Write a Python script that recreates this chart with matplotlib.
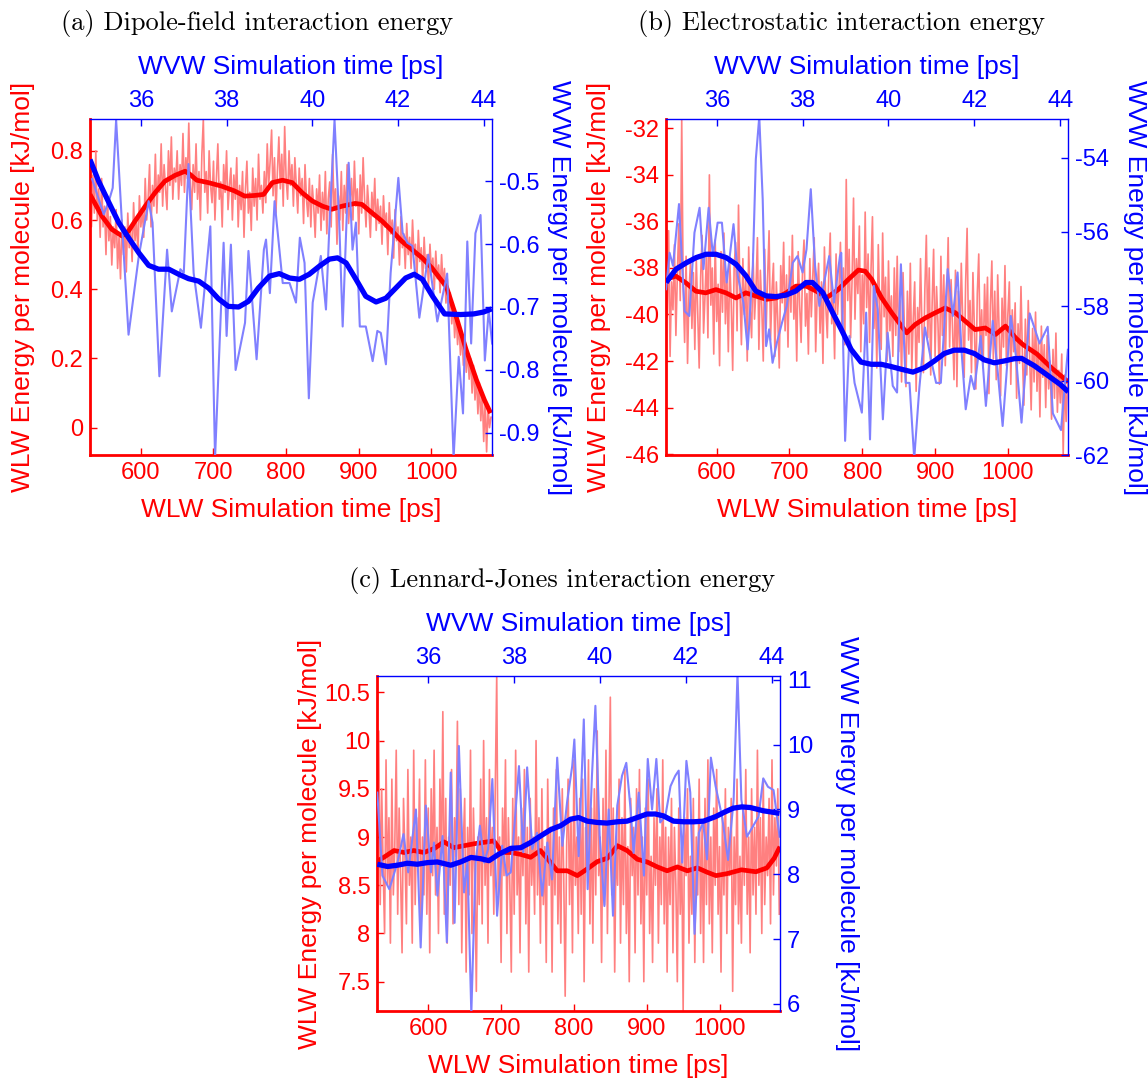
import numpy as np
import matplotlib
matplotlib.use('Agg')
import matplotlib.pyplot as plt
from matplotlib.ticker import FormatStrFormatter

plt.rcParams['font.family'] = 'Liberation Sans'
plt.rcParams['axes.unicode_minus'] = False

W, H = 1148, 1080
RED, BLUE = '#ff0000', '#0000ff'
LIGHT_RED, LIGHT_BLUE = '#ff8080', '#8080ff'

# WLW runs span 530-1083 ps (sampled every 2 ps), WVW runs 34.81-44.19 ps
WLW_RANGE = (530, 1083)
WVW_RANGE = (34.81, 44.19)

# ---------------- (a) dipole-field energy ----------------
dip_wlw = [0.66, 0.58, 0.73, 0.62, 0.80, 0.60, 0.69, 0.55, 0.72, 0.58, 0.64, 0.50, 0.67, 0.54, 0.61, 0.47, 0.58, 0.52, 0.63, 0.46,
           0.55, 0.43, 0.60, 0.50, 0.58, 0.45, 0.62, 0.52, 0.57, 0.48, 0.65, 0.54, 0.60, 0.50, 0.67, 0.58, 0.63, 0.55, 0.72, 0.60,
           0.66, 0.76, 0.58, 0.70, 0.64, 0.79, 0.62, 0.73, 0.68, 0.82, 0.64, 0.76, 0.69, 0.63, 0.80, 0.70, 0.84, 0.66, 0.75, 0.71,
           0.80, 0.66, 0.76, 0.70, 0.85, 0.68, 0.78, 0.72, 0.88, 0.70, 0.63, 0.76, 0.68, 0.82, 0.66, 0.74, 0.60, 0.79, 0.89, 0.68,
           0.74, 0.62, 0.80, 0.70, 0.65, 0.77, 0.60, 0.72, 0.82, 0.66, 0.71, 0.58, 0.76, 0.68, 0.80, 0.63, 0.70, 0.75, 0.60, 0.73,
           0.66, 0.78, 0.58, 0.70, 0.63, 0.74, 0.55, 0.69, 0.77, 0.62, 0.68, 0.57, 0.75, 0.64, 0.72, 0.60, 0.79, 0.66, 0.70, 0.62,
           0.74, 0.65, 0.82, 0.70, 0.77, 0.86, 0.67, 0.78, 0.62, 0.74, 0.84, 0.69, 0.79, 0.64, 0.87, 0.72, 0.66, 0.80, 0.70, 0.76,
           0.64, 0.78, 0.70, 0.62, 0.75, 0.67, 0.72, 0.59, 0.76, 0.66, 0.61, 0.72, 0.58, 0.70, 0.64, 0.55, 0.69, 0.62, 0.73, 0.57,
           0.68, 0.60, 0.74, 0.56, 0.66, 0.71, 0.58, 0.79, 0.63, 0.69, 0.53, 0.67, 0.60, 0.74, 0.57, 0.70, 0.62, 0.76, 0.59, 0.66,
           0.72, 0.60, 0.77, 0.64, 0.69, 0.56, 0.73, 0.62, 0.78, 0.66, 0.58, 0.70, 0.63, 0.55, 0.68, 0.61, 0.72, 0.57, 0.66, 0.59,
           0.64, 0.53, 0.67, 0.58, 0.62, 0.50, 0.65, 0.56, 0.60, 0.49, 0.63, 0.54, 0.58, 0.47, 0.61, 0.52, 0.56, 0.46, 0.59, 0.50,
           0.55, 0.46, 0.60, 0.50, 0.53, 0.43, 0.57, 0.48, 0.52, 0.42, 0.55, 0.46, 0.50, 0.41, 0.53, 0.45, 0.49, 0.40, 0.51, 0.43,
           0.47, 0.39, 0.50, 0.41, 0.46, 0.36, 0.43, 0.33, 0.39, 0.30, 0.36, 0.26, 0.33, 0.24, 0.30, 0.21, 0.27, 0.18, 0.25, 0.16,
           0.22, 0.14, 0.20, 0.10, 0.18, 0.08, 0.15, 0.04, 0.13, 0.02, 0.10, -0.04, 0.08, -0.07, 0.06, 0.00, 0.03]
dip_wlw_avg_t = [530, 546.5, 560, 574, 583, 592, 606, 619.6, 633, 647,
                 661, 667.6, 677, 693, 711, 729, 743, 757, 769, 781,
                 795, 808.5, 822, 836, 850, 863, 877, 895, 904.5, 918,
                 932, 946, 959, 973, 987, 1000.5, 1020.7, 1034, 1048, 1062,
                 1073, 1081.5]
dip_wlw_avg = [0.674, 0.611, 0.573, 0.554, 0.568, 0.597, 0.640, 0.679, 0.712, 0.729,
               0.741, 0.732, 0.715, 0.708, 0.698, 0.684, 0.669, 0.671, 0.674, 0.708,
               0.715, 0.708, 0.679, 0.655, 0.640, 0.631, 0.640, 0.648, 0.645, 0.621,
               0.597, 0.568, 0.539, 0.515, 0.491, 0.462, 0.407, 0.321, 0.224, 0.138,
               0.080, 0.042]
dip_wvw_t = [34.86, 35.13, 35.25, 35.34, 35.42, 35.56, 35.71, 35.95, 36.18, 36.27,
             36.43, 36.61, 36.72, 36.92, 37.00, 37.11, 37.23, 37.40, 37.62, 37.73,
             37.93, 38.00, 38.10, 38.21, 38.43, 38.51, 38.70, 38.87, 38.92, 39.01,
             39.12, 39.31, 39.47, 39.62, 39.71, 39.82, 39.92, 40.01, 40.20, 40.32,
             40.40, 40.52, 40.63, 40.71, 40.85, 40.94, 41.02, 41.11, 41.25, 41.41,
             41.52, 41.60, 41.72, 41.83, 42.01, 42.11, 42.22, 42.34, 42.50, 42.71,
             42.92, 43.15, 43.30, 43.42, 43.52, 43.62, 43.71, 43.81, 43.93, 44.03,
             44.12, 44.20]
dip_wvw = [-0.497, -0.553, -0.532, -0.511, -0.403, -0.572, -0.744, -0.619, -0.532, -0.566,
           -0.810, -0.609, -0.707, -0.640, -0.646, -0.473, -0.646, -0.733, -0.572, -0.940,
           -0.598, -0.746, -0.601, -0.800, -0.725, -0.611, -0.783, -0.609, -0.593, -0.678,
           -0.532, -0.662, -0.662, -0.693, -0.590, -0.630, -0.845, -0.693, -0.619, -0.704,
           -0.572, -0.403, -0.566, -0.731, -0.471, -0.609, -0.566, -0.731, -0.731, -0.786,
           -0.738, -0.741, -0.791, -0.646, -0.495, -0.582, -0.598, -0.603, -0.717, -0.617,
           -0.723, -0.647, -0.940, -0.779, -0.869, -0.596, -0.758, -0.583, -0.554, -0.785,
           -0.705, -0.758]
dip_wvw_avg_t = [34.81, 35.01, 35.25, 35.48, 35.71, 35.95, 36.18, 36.41, 36.65, 36.88,
                 37.11, 37.35, 37.58, 37.81, 38.04, 38.28, 38.51, 38.74, 39.00, 39.23,
                 39.47, 39.70, 39.93, 40.17, 40.40, 40.59, 40.79, 41.02, 41.25, 41.49,
                 41.72, 41.95, 42.18, 42.38, 42.57, 42.81, 43.09, 43.46, 43.77, 44.00,
                 44.19]
dip_wvw_avg = [-0.466, -0.500, -0.534, -0.566, -0.590, -0.614, -0.634, -0.640, -0.640, -0.648,
               -0.655, -0.659, -0.670, -0.687, -0.699, -0.700, -0.691, -0.670, -0.651, -0.647,
               -0.654, -0.656, -0.648, -0.635, -0.624, -0.622, -0.630, -0.656, -0.683, -0.692,
               -0.686, -0.670, -0.654, -0.648, -0.656, -0.683, -0.711, -0.712, -0.711, -0.708,
               -0.703]

# ---------------- (b) electrostatic energy ----------------
elec_wlw = [-37.2, -40.1, -36.4, -41.8, -38.6, -39.8, -37.0, -40.9, -38.3, -36.1, -39.4, -31.6, -38.8, -41.2, -37.5, -42.1, -39.0, -37.8, -40.6, -38.2,
            -41.5, -37.6, -40.0, -42.3, -38.4, -36.6, -40.8, -39.2, -37.4, -41.0, -34.0, -39.6, -38.0, -41.7, -36.8, -40.3, -38.7, -42.2, -37.3, -39.9,
            -36.5, -40.4, -38.2, -41.6, -37.7, -39.5, -42.4, -38.0, -36.9, -40.7, -35.3, -39.1, -41.3, -37.6, -40.0, -38.5, -42.0, -37.1, -39.8, -41.0,
            -37.4, -40.2, -38.9, -36.7, -41.5, -38.1, -39.7, -42.0, -37.2, -40.6, -38.4, -36.4, -41.1, -39.0, -37.8, -41.8, -38.6, -40.3, -42.3, -37.9,
            -39.5, -36.9, -40.7, -38.3, -41.4, -37.5, -39.9, -36.6, -40.2, -38.8, -42.0, -37.3, -39.6, -41.2, -38.0, -36.8, -40.5, -39.1, -41.7, -37.6,
            -40.1, -38.4, -36.7, -41.6, -39.2, -37.8, -40.8, -38.6, -42.1, -37.1, -39.7, -41.0, -38.2, -36.5, -40.4, -39.3, -41.9, -37.4, -40.0, -38.9,
            -36.9, -40.6, -38.0, -41.3, -34.2, -39.4, -37.2, -41.0, -38.5, -35.0, -40.2, -37.6, -39.1, -36.2, -41.6, -38.3, -40.4, -35.6, -39.7, -37.4,
            -41.2, -38.1, -35.8, -40.6, -38.9, -42.3, -37.0, -39.8, -41.5, -36.5, -40.1, -38.4, -42.0, -37.7, -40.7, -39.2, -41.8, -38.0, -40.9, -37.5,
            -41.6, -39.4, -42.9, -38.2, -40.8, -43.1, -39.0, -41.7, -37.8, -42.4, -40.2, -38.6, -43.3, -39.7, -41.2, -37.6, -40.6, -42.5, -38.9, -36.6,
            -41.0, -38.0, -42.6, -39.5, -37.2, -41.8, -38.8, -40.4, -43.0, -37.5, -40.9, -38.3, -42.2, -39.6, -36.7, -41.4, -38.5, -40.7, -42.8, -38.1,
            -43.1, -39.0, -41.5, -37.8, -40.3, -42.7, -38.6, -36.3, -41.1, -39.4, -42.5, -38.2, -40.6, -43.2, -39.1, -37.4, -41.7, -39.8, -42.3, -38.7,
            -40.9, -38.4, -43.4, -39.6, -37.7, -41.9, -39.0, -42.8, -38.3, -40.7, -43.5, -39.3, -41.4, -37.9, -42.2, -40.0, -38.6, -43.0, -39.8, -41.6,
            -39.5, -43.6, -40.4, -42.1, -38.8, -41.8, -43.9, -40.2, -42.6, -39.4, -41.9, -44.1, -40.6, -42.9, -39.9, -43.3, -41.1, -44.4, -40.5, -42.7,
            -41.3, -44.0, -40.9, -43.2, -42.0, -44.5, -41.5, -43.6, -40.8, -44.2, -42.4, -43.8, -41.7, -46.0, -42.6, -44.6, -42.9]
elec_wlw_avg_t = [530, 544, 557.7, 571.5, 585, 599, 612.8, 626.6, 640, 654,
                  668, 682, 695.5, 709, 723, 737, 750.6, 767, 781, 794.6,
                  804, 813, 826.7, 840.5, 854, 861, 872.7, 886.5, 900, 914,
                  928, 941.6, 955, 969, 983, 996.7, 1010.5, 1020.5, 1040, 1060,
                  1083]
elec_wlw_avg = [-38.49, -38.35, -38.64, -39.00, -39.07, -38.93, -39.07, -39.29, -39.07, -39.21,
                -39.35, -39.29, -39.07, -38.78, -38.78, -39.00, -39.29, -38.93, -38.49, -38.09,
                -38.14, -38.49, -39.29, -39.93, -40.50, -40.79, -40.43, -40.15, -39.93, -39.72,
                -39.93, -40.29, -40.65, -40.58, -40.86, -40.50, -41.00, -41.29, -41.70, -42.30,
                -42.90]
elec_wvw_t = [34.82, 34.90, 34.98, 35.12, 35.25, 35.36, 35.48, 35.60, 35.69, 35.81,
              35.91, 36.02, 36.12, 36.23, 36.39, 36.49, 36.62, 36.72, 36.84, 36.91,
              36.99, 37.07, 37.15, 37.22, 37.30, 37.40, 37.52, 37.63, 37.77, 37.88,
              38.00, 38.09, 38.19, 38.29, 38.39, 38.50, 38.62, 38.73, 38.87, 38.90,
              38.99, 39.09, 39.21, 39.38, 39.48, 39.57, 39.66, 39.75, 39.87, 39.98,
              40.10, 40.20, 40.29, 40.40, 40.49, 40.60, 40.72, 40.85, 40.99, 41.11,
              41.22, 41.38, 41.50, 41.61, 41.70, 41.80, 41.92, 42.00, 42.15, 42.27,
              42.43, 42.54, 42.66, 42.85, 42.97, 43.10, 43.29, 43.52, 43.71, 43.83,
              44.02, 44.18]
elec_wvw = [-57.54, -56.56, -56.91, -55.25, -58.13, -58.26, -56.02, -55.35, -57.00, -55.35,
            -56.65, -55.75, -55.75, -57.36, -55.79, -57.18, -57.90, -59.16, -56.91, -54.04,
            -52.90, -55.12, -59.07, -58.62, -59.52, -58.98, -58.44, -57.99, -56.83, -56.65,
            -57.09, -56.47, -54.85, -56.91, -57.99, -57.36, -56.65, -57.90, -56.65, -56.56,
            -61.62, -58.80, -60.06, -60.86, -58.17, -61.58, -57.45, -58.08, -61.04, -58.71,
            -60.14, -60.32, -56.87, -60.06, -60.06, -62.10, -60.19, -58.57, -59.43, -60.06,
            -60.06, -57.00, -58.26, -57.09, -59.16, -60.77, -59.87, -60.23, -58.80, -60.68,
            -58.39, -59.69, -61.22, -58.26, -59.34, -61.13, -58.19, -59.00, -58.55, -60.88,
            -61.33, -59.17]
elec_wvw_avg_t = [34.82, 35.05, 35.29, 35.52, 35.75, 35.98, 36.22, 36.45, 36.68, 36.91,
                  37.15, 37.38, 37.61, 37.84, 38.08, 38.23, 38.47, 38.70, 38.90, 39.13,
                  39.36, 39.60, 39.83, 40.06, 40.29, 40.57, 40.84, 41.07, 41.30, 41.53,
                  41.77, 42.00, 42.23, 42.47, 42.70, 42.93, 43.10, 43.40, 43.70, 44.00,
                  44.19]
elec_wvw_avg = [-57.36, -57.00, -56.83, -56.69, -56.60, -56.60, -56.69, -56.87, -57.18, -57.59,
                -57.72, -57.74, -57.70, -57.59, -57.36, -57.36, -57.63, -58.17, -58.62, -59.16,
                -59.50, -59.56, -59.56, -59.62, -59.69, -59.77, -59.65, -59.47, -59.27, -59.18,
                -59.18, -59.27, -59.44, -59.52, -59.47, -59.41, -59.40, -59.60, -59.85, -60.10,
                -60.30]

# ---------------- (c) Lennard-Jones energy ----------------
lj_wlw = [9.1, 10.1, 8.3, 9.5, 8.7, 8.0, 9.8, 8.5, 9.2, 7.9, 9.6, 8.4, 8.9, 9.9, 8.2, 9.3, 8.6, 7.8, 9.4, 8.8,
          8.1, 9.7, 8.5, 9.0, 7.9, 9.9, 8.3, 9.2, 8.7, 9.6, 8.0, 9.0, 8.4, 9.8, 8.2, 9.3, 7.8, 9.5, 8.6, 9.9,
          8.4, 9.1, 8.0, 9.6, 8.7, 10.3, 8.2, 9.4, 7.9, 9.0, 8.5, 9.7, 8.1, 9.2, 8.8, 10.2, 8.3, 9.5, 7.8, 8.9,
          9.4, 7.6, 9.1, 8.4, 9.9, 8.0, 9.3, 8.6, 7.4, 9.0, 8.3, 9.6, 8.1, 10.0, 8.5, 9.2, 7.9, 9.7, 8.6, 9.1,
          8.2, 9.5, 10.68, 8.4, 9.0, 7.7, 9.3, 8.6, 9.8, 8.0, 9.2, 8.5, 7.6, 9.4, 8.2, 9.9, 8.4, 9.0, 7.8, 9.3,
          8.6, 9.7, 8.1, 9.1, 7.6, 9.4, 8.5, 9.0, 8.2, 10.0, 8.4, 9.2, 7.9, 9.5, 8.3, 8.9, 7.7, 9.6, 8.5, 9.1,
          7.6, 9.3, 8.4, 9.7, 8.1, 9.0, 7.9, 9.5, 8.6, 7.35, 8.9, 9.6, 8.3, 9.2, 7.8, 9.8, 8.5, 9.0, 8.0, 9.4,
          8.2, 9.6, 7.5, 9.1, 8.7, 9.8, 8.1, 9.3, 7.9, 9.5, 8.4, 10.1, 8.6, 9.0, 7.7, 9.4, 8.3, 9.9, 8.0, 9.2,
          10.45, 8.4, 9.3, 7.6, 9.0, 8.5, 9.6, 7.9, 9.2, 8.3, 9.7, 8.0, 8.9, 7.5, 9.4, 8.6, 9.1, 7.8, 9.5, 8.4,
          9.7, 8.1, 9.0, 7.5, 9.3, 8.4, 9.6, 8.0, 8.8, 7.7, 9.2, 8.5, 9.5, 7.9, 9.0, 8.3, 9.8, 8.1, 9.1, 7.6,
          9.0, 8.3, 9.4, 7.8, 9.1, 8.5, 7.5, 9.3, 8.2, 8.9, 7.2, 9.2, 8.6, 9.5, 7.9, 8.8, 8.2, 9.4, 7.7, 9.0,
          8.4, 9.6, 8.0, 9.1, 7.7, 9.4, 8.3, 9.8, 8.1, 9.0, 7.8, 9.3, 8.5, 9.7, 8.2, 8.9, 7.6, 9.2, 8.4, 9.5,
          8.0, 9.1, 8.6, 9.4, 7.4, 9.0, 8.3, 9.6, 8.1, 8.8, 7.9, 9.3, 8.5, 9.7, 8.2, 9.0, 7.8, 9.5, 8.4, 9.1,
          8.2, 9.9, 8.5, 9.2, 8.0, 9.6, 8.3, 9.0, 8.6, 9.4, 8.1, 9.8, 8.4, 9.2, 8.7, 9.5, 8.2]
lj_wlw_avg_t = [530, 539, 553, 566.6, 580, 594, 608, 621.6, 635, 649,
                662.8, 676.5, 690, 701.6, 713, 727, 740.6, 754, 765.8, 777,
                791, 804.7, 818.4, 832, 846, 859.6, 873, 887, 901, 914.6,
                928, 942, 955.8, 969.5, 983, 995, 1010, 1030, 1050, 1065,
                1075, 1083]
lj_wlw_avg = [8.75, 8.79, 8.86, 8.84, 8.86, 8.84, 8.88, 8.95, 8.89, 8.91,
              8.93, 8.945, 8.96, 8.84, 8.84, 8.82, 8.79, 8.86, 8.756, 8.65,
              8.65, 8.60, 8.67, 8.745, 8.78, 8.91, 8.86, 8.77, 8.74, 8.69,
              8.65, 8.69, 8.65, 8.68, 8.635, 8.60, 8.62, 8.66, 8.64, 8.68,
              8.78, 8.90]
lj_wvw_t = [34.81, 34.93, 35.09, 35.28, 35.42, 35.53, 35.71, 35.82, 35.94, 36.06,
            36.13, 36.21, 36.33, 36.43, 36.52, 36.61, 36.71, 36.83, 36.91, 37.00,
            37.10, 37.20, 37.30, 37.39, 37.49, 37.60, 37.72, 37.82, 37.92, 38.01,
            38.11, 38.21, 38.30, 38.42, 38.53, 38.65, 38.77, 38.88, 39.00, 39.12,
            39.23, 39.35, 39.40, 39.50, 39.62, 39.71, 39.81, 39.89, 39.99, 40.10,
            40.20, 40.30, 40.40, 40.51, 40.61, 40.71, 40.78, 40.90, 41.02, 41.11,
            41.21, 41.31, 41.40, 41.52, 41.64, 41.75, 41.83, 41.91, 42.01, 42.10,
            42.20, 42.30, 42.40, 42.49, 42.58, 42.69, 42.84, 42.98, 43.11, 43.20,
            43.29, 43.42, 43.56, 43.69, 43.80, 43.91, 44.04, 44.18]
lj_wvw = [9.26, 7.98, 7.77, 8.18, 8.62, 8.03, 9.00, 6.87, 9.06, 8.03,
          8.49, 7.67, 8.59, 6.95, 9.57, 7.25, 9.98, 7.72, 8.18, 5.85,
          8.18, 8.75, 8.18, 8.39, 9.47, 7.36, 8.44, 7.98, 8.03, 8.80,
          9.67, 8.34, 9.65, 8.39, 8.64, 7.67, 8.49, 7.92, 9.80, 8.44,
          9.11, 9.67, 10.08, 8.28, 10.39, 7.77, 9.52, 10.60, 8.59, 7.51,
          9.00, 7.36, 9.06, 9.52, 9.72, 9.00, 8.33, 9.26, 7.98, 9.78,
          9.00, 9.78, 8.80, 8.90, 9.36, 9.52, 9.60, 8.18, 9.75, 9.26,
          7.08, 8.64, 8.80, 8.23, 9.80, 9.36, 8.89, 8.22, 9.15, 11.10,
          9.15, 8.58, 8.74, 8.89, 9.48, 9.35, 9.30, 8.58]
lj_wvw_avg_t = [34.81, 35.05, 35.28, 35.51, 35.74, 35.98, 36.21, 36.52, 36.75, 36.99,
                37.22, 37.41, 37.64, 37.92, 38.15, 38.38, 38.61, 38.85, 39.08, 39.31,
                39.50, 39.70, 39.93, 40.16, 40.40, 40.63, 40.86, 41.09, 41.29, 41.48,
                41.71, 41.95, 42.18, 42.41, 42.69, 42.90, 43.10, 43.30, 43.50, 43.80,
                44.00, 44.18]
lj_wvw_avg = [8.155, 8.12, 8.14, 8.17, 8.155, 8.18, 8.19, 8.14, 8.19, 8.26,
              8.24, 8.21, 8.31, 8.40, 8.41, 8.49, 8.59, 8.69, 8.75, 8.85,
              8.875, 8.82, 8.80, 8.79, 8.81, 8.82, 8.875, 8.93, 8.93, 8.90,
              8.82, 8.81, 8.81, 8.82, 8.89, 8.96, 9.02, 9.04, 9.03, 8.98,
              8.96, 8.94]

fig = plt.figure(figsize=(W / 100, H / 100), dpi=100)


def energy_panel(box, title, title_x, wlw, wlw_avg_t, wlw_avg, wvw_t, wvw,
                 wvw_avg_t, wvw_avg, ylim_l, yticks_l, ylim_r, yticks_r):
    left, top, right, bottom = box
    rect = [left / W, 1 - bottom / H, (right - left) / W, (bottom - top) / H]
    w_px, h_px = right - left, bottom - top

    ax = fig.add_axes(rect)
    ax2 = fig.add_axes(rect)
    ax2.patch.set_visible(False)

    t_wlw = np.linspace(WLW_RANGE[0], 1082, len(wlw))
    ax.plot(t_wlw, wlw, color=LIGHT_RED, lw=1.2)
    ax.plot(wlw_avg_t, wlw_avg, color=RED, lw=3.4, solid_capstyle='butt')
    ax2.plot(wvw_t, wvw, color=LIGHT_BLUE, lw=1.5)
    ax2.plot(wvw_avg_t, wvw_avg, color=BLUE, lw=3.8, solid_capstyle='butt')

    ax.set_xlim(*WLW_RANGE)
    ax.set_ylim(*ylim_l)
    ax.set_xticks([600, 700, 800, 900, 1000])
    ax.set_yticks(yticks_l)
    ax2.set_xlim(*WVW_RANGE)
    ax2.set_ylim(*ylim_r)
    ax2.set_xticks([36, 38, 40, 42, 44])
    ax2.set_yticks(yticks_r)
    for a in (ax, ax2):
        a.yaxis.set_major_formatter(FormatStrFormatter('%g'))

    ax.tick_params(direction='in', length=5, width=1, color=RED, labelcolor=RED,
                   labelsize=17, pad=5, top=False, right=False)
    ax2.tick_params(direction='in', length=5, width=1, color=BLUE, labelcolor=BLUE,
                    labelsize=17, pad=5, top=True, right=True, bottom=False, left=False,
                    labeltop=True, labelright=True, labelbottom=False, labelleft=False)

    for side in ('top', 'right'):
        ax.spines[side].set_visible(False)
    for side in ('left', 'bottom'):
        ax.spines[side].set_color(RED)
        ax.spines[side].set_linewidth(2)
        ax2.spines[side].set_visible(False)
    for side in ('top', 'right'):
        ax2.spines[side].set_color(BLUE)
        ax2.spines[side].set_linewidth(1)

    ax.set_xlabel('WLW Simulation time [ps]', color=RED, fontsize=19, va='center')
    ax.xaxis.set_label_coords(0.5, -55 / h_px)
    ax.set_ylabel('WLW Energy per molecule [kJ/mol]', color=RED, fontsize=19, va='center')
    ax.yaxis.set_label_coords(-67 / w_px, 0.5)
    ax2.xaxis.set_label_position('top')
    ax2.set_xlabel('WVW Simulation time [ps]', color=BLUE, fontsize=19, va='center')
    ax2.xaxis.set_label_coords(0.5, 1 + 52.5 / h_px)
    ax2.yaxis.set_label_position('right')
    ax2.set_ylabel('WVW Energy per molecule [kJ/mol]', color=BLUE, fontsize=19,
                   rotation=270, va='center')
    ax2.yaxis.set_label_coords(1 + 67 / w_px, 0.5)

    fig.text(title_x / W, 1 - (top - 96) / H, title, family='cmr10', fontsize=19,
             ha='center', va='center')


energy_panel((90, 119.3, 491.7, 455), '(a) Dipole-field interaction energy', 257,
             dip_wlw, dip_wlw_avg_t, dip_wlw_avg, dip_wvw_t, dip_wvw,
             dip_wvw_avg_t, dip_wvw_avg,
             (-0.079, 0.891), [0, 0.2, 0.4, 0.6, 0.8],
             (-0.935, -0.402), [-0.9, -0.8, -0.7, -0.6, -0.5])
energy_panel((665.7, 119.3, 1068.3, 455), '(b) Electrostatic interaction energy', 841,
             elec_wlw, elec_wlw_avg_t, elec_wlw_avg, elec_wvw_t, elec_wvw,
             elec_wvw_avg_t, elec_wvw_avg,
             (-46.04, -31.61), [-46, -44, -42, -40, -38, -36, -34, -32],
             (-62.0, -52.97), [-62, -60, -58, -56, -54])
energy_panel((377.3, 676, 780, 1011), '(c) Lennard-Jones interaction energy', 562,
             lj_wlw, lj_wlw_avg_t, lj_wlw_avg, lj_wvw_t, lj_wvw,
             lj_wvw_avg_t, lj_wvw_avg,
             (7.196, 10.67), [7.5, 8, 8.5, 9, 9.5, 10, 10.5],
             (5.89, 11.06), [6, 7, 8, 9, 10, 11])

fig.savefig('out.png', dpi=100)
